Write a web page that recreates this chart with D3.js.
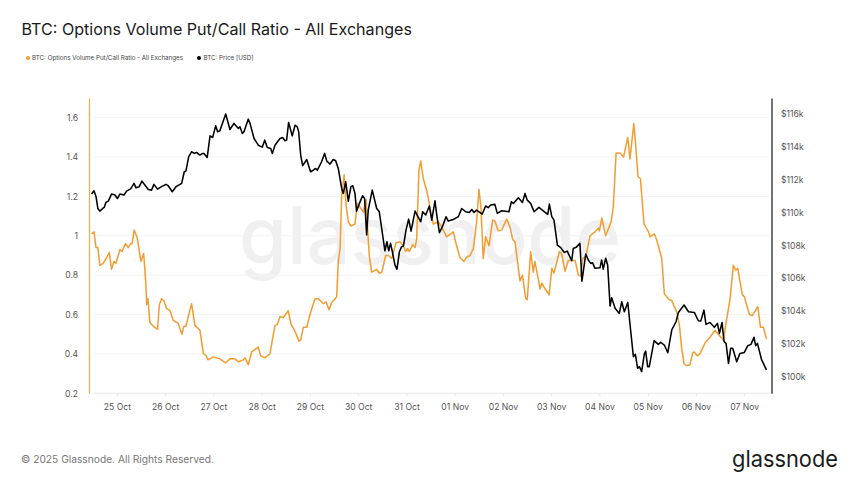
<!DOCTYPE html>
<html><head><meta charset="utf-8">
<script src="https://cdnjs.cloudflare.com/ajax/libs/d3/7.8.5/d3.min.js"></script>
<style>html,body{margin:0;padding:0;background:#fff}svg{display:block}text{font-family:Inter,"Noto Sans",sans-serif}</style>
</head><body><svg id="c" width="860" height="484"></svg>
<script>
// hours since 25 Oct 2025 00:00 UTC
const ratioHours=[-12.6,-11.4,-10.4,-9.5,-8.5,-6.8,-5.1,-3.8,-2.7,-1.5,-0.5,1.5,2.5,4.3,5.6,6.8,7.5,8.6,10.1,11.9,13.3,14.3,14.8,15.4,16.4,18.1,20.2,21.1,22.2,23.4,24.7,26.4,28,30.5,32.3,33.3,34.3,37.1,38.8,41.3,43,44.1,45.4,47.1,47.9,49.6,51.2,54.1,56.2,58.7,60.4,62.9,63.7,65.3,67,70.3,71.5,73.6,76.1,78.6,79.8,81.1,82.8,85.2,86.6,88.6,90.5,91.4,92.7,94.4,96,98.5,100.2,102.7,104,105.5,106.8,109.3,110.1,111,111.8,113,114,115.1,116.4,118.4,119.6,120.9,122.6,123.9,124.5,125.5,126.7,129.2,130.5,131.7,133.7,135,136.7,138.8,140.8,142.5,143.6,144.6,145.4,147.1,148.3,149.1,150.2,151.1,152.4,154.1,154.9,156.1,157.4,159.9,161.5,164,167.3,168.7,170.6,172.6,173.9,175.6,177.3,178.9,180.1,181.1,182.2,183.4,185.1,186.9,188,189.7,191.4,193.9,195.5,196.9,198,199.7,200.5,201.7,203.3,204.1,205.8,207.1,207.9,210.5,211.3,213,215,216.3,217.4,220.1,221.2,222.9,224.5,227.9,229.5,230.7,231.7,233.3,235.3,237.8,239.5,240,241.2,243.1,245.8,246.9,248.3,250.3,252,254.1,255.2,257.1,258.2,259.2,260.4,262.2,264.4,265.2,267.3,268.5,271,272.3,274.3,276,278.4,279.8,280.9,282.1,283.4,285,286.4,287.2,288.7,290,292.5,295,297.5,300,301.7,302.8,305,306.6,307.8,308.8,311.1,312.1,314.6,316.1,318.8,320.1,321.6,323.1];
const ratioValues=[1.01,1.02,.94,.94,.85,.86,.89,.915,.83,.87,.86,.93,.92,.96,.94,.96,.96,1.03,.99,.87,.91,.77,.65,.68,.56,.54,.525,.65,.68,.67,.63,.62,.57,.555,.5,.54,.54,.655,.545,.52,.4,.395,.37,.38,.385,.38,.375,.355,.375,.375,.36,.37,.38,.345,.41,.435,.39,.38,.4,.545,.55,.59,.585,.62,.55,.515,.465,.47,.535,.535,.6,.68,.68,.655,.665,.625,.66,.69,.87,.935,1.205,1.31,1.155,1.07,1.05,1.06,1.165,1.145,1.12,1.185,1.07,.9,.815,.83,.81,.815,.9,.9,.885,.965,.97,.95,.92,.935,.92,.955,.94,.985,1.33,1.38,1.29,1.23,1.19,1.12,1.06,1.07,1.045,.995,1.02,.96,.89,.87,.89,.9,.935,1.07,1.235,1.14,.885,.995,.95,1.08,1.075,1.025,1.03,1.085,1.045,.98,.97,.835,.77,.8,.685,.675,.92,.815,.87,.73,.76,.73,.7,.835,.81,.92,.91,.82,.875,.875,.8,.795,.885,.895,1,1.02,1.04,1.025,1.09,1,1.07,1.145,1.42,1.42,1.4,1.5,1.39,1.57,1.44,1.3,1.29,1.06,1.02,.995,1.01,.98,.885,.705,.68,.67,.615,.545,.43,.35,.34,.345,.405,.41,.39,.4,.455,.485,.52,.49,.47,.545,.68,.85,.825,.835,.7,.69,.6,.595,.64,.535,.535,.475];
const priceHours=[-12.6,-11.4,-10.4,-9.5,-8.5,-7.1,-6.3,-5.5,-4.3,-2.7,-1,.2,1.5,3.5,4.8,6.8,8.5,9.5,11.1,12.4,13.9,15.6,17.2,18.4,20.2,22.2,24.4,25.5,27.5,29.4,32.2,33.5,34.3,35.7,37.1,38.5,39.6,41.3,42.6,43.3,44.9,46.3,47.6,49.1,50.1,51.2,54.1,56.2,58.2,60.4,61.2,62.4,63.2,65.3,66.2,68.2,70.3,72.3,73.5,74.8,76.5,77.3,78.6,81.1,82.4,83.6,84.4,85.4,87.2,88.6,89.7,90.4,91.4,92.4,94.4,96.3,97.7,98.8,99.7,101.8,103.3,104.4,106,107.6,108.8,110.1,111.8,112.6,113.8,115.1,116.4,117.3,118.4,119.2,120.6,122.2,123.2,124.2,125,127,129.2,130.5,131.7,133.3,134.3,135.2,136.1,137,138.3,139.3,140.5,141.6,142.5,143.8,145.1,146.3,148.3,151.1,152.1,153.6,155.4,156.6,158.2,159.1,160.4,161.9,163.7,164.8,167.3,169.8,171.5,173.5,175.3,176.5,177.6,178.9,181.7,183.4,184.7,185.9,188,189.2,191.4,195,196.2,197.2,199.7,201.7,203,204.1,205.8,207.5,209.9,213,214.3,215.1,216.3,217.4,219.1,220.8,221.6,222.6,224,226.2,227,228.4,230.3,231.3,233.2,234.5,235.7,236.6,237.8,240.3,241.1,241.9,243.1,244.1,245.3,246.1,247.8,249.9,251.1,252.4,254.1,255.6,256.9,257.9,259,259.9,261,262.4,263,264,264.8,267.2,269.3,270.5,272.3,274,276,278.1,279.3,282.1,284.3,287.2,289.2,290.4,292,293,295,297.2,298.7,299.7,301,302,303,304.2,305.3,306.3,308.3,309.9,312.1,313.8,315.4,316.9,317.7,318.6,320.7,323.1];
const priceValues=[111.13,111.33,110.97,110.25,110.09,110.25,110.32,110.62,110.7,111.13,111.07,110.86,111.13,111.07,111.31,111.45,111.78,111.51,111.58,111.92,111.68,111.41,111.37,111.72,111.43,111.58,111.72,111.64,111.27,111.58,111.78,112.49,112.53,113.41,113.71,113.61,113.67,113.51,113.61,113.61,113.36,114.68,114.58,115.29,114.93,114.99,116.01,115.07,115.44,115.13,115.23,114.83,114.93,115.7,115.44,114.52,114.11,113.99,114.42,113.97,113.91,113.61,114.11,114.52,114.58,114.38,114.42,115.5,114.68,115.33,115.23,114.93,113.51,112.86,113.24,112.49,112.59,112.69,112.59,113.1,113.61,113.14,112.96,113.24,113.16,112.69,111.47,111.17,111.88,110.7,111.58,111.64,111.17,110.09,110.56,111.03,110.86,108.63,110.15,111.37,110.25,110.05,109.03,107.67,108.22,107.67,108.12,107.61,106.8,106.55,107.61,107.92,107.96,108.93,109.6,108.87,110.09,109.44,110.05,109.85,110.4,109.54,110.72,109.85,108.77,109.14,109.75,109.48,109.58,109.75,110.25,110.05,110.01,110.19,110.01,110.15,109.91,110.4,110.3,110.46,110.5,109.95,110.11,110.05,110.66,110.56,110.9,110.62,111.17,110.76,110.56,110.05,110.32,110.01,109.89,110.52,109.75,109.54,108.02,107.86,107.71,107.57,107.65,107.06,107.81,107.88,108.12,105.82,107.47,107.1,106.9,106.94,106.6,106.64,107.1,106.55,107.21,106.8,104.3,104.81,104.16,103.85,104.56,103.95,104.52,102.73,101.21,101.35,100.5,100.6,100.3,101.41,101.55,100.6,100.6,102.19,101.96,102.08,101.92,101.45,102.84,103.34,103.91,104.36,103.95,103.91,103.4,103.38,104.05,103.18,103.3,103,103.24,102.63,103.3,102.12,102.02,100.8,101.72,101.72,100.9,101.41,101.47,101.88,101.96,102.39,101.88,102.02,101.01,100.4];
const ratioTicks=[0.2,0.4,0.6,0.8,1,1.2,1.4,1.6];
const priceTicks=[100,102,104,106,108,110,112,114,116];
const dayLabels=["25 Oct","26 Oct","27 Oct","28 Oct","29 Oct","30 Oct","31 Oct","01 Nov","02 Nov","03 Nov","04 Nov","05 Nov","06 Nov","07 Nov"];
const title="BTC: Options Volume Put/Call Ratio - All Exchanges";
const seriesNames=["BTC: Options Volume Put/Call Ratio - All Exchanges","BTC: Price [USD]"];

const ORANGE="#f39c2f",BLACK="#000";
const svg=d3.select("#c");
const L=89,R=771.5,T=98,B=393.3;
const t0=Date.UTC(2025,9,25);
const toDate=h=>new Date(t0+h*3600e3);
const x=d3.scaleUtc().domain([toDate(-13.9),toDate(325.6)]).range([L,R]);
const yR=d3.scaleLinear().domain([0.2,1.7]).range([B,T]);
const yP=d3.scaleLinear().domain([98.976,116.99]).range([B,T]);

// watermark
svg.append("text").attr("x",430).attr("y",264).attr("text-anchor","middle")
  .attr("font-size",80).attr("font-weight",500).attr("textLength",382).attr("lengthAdjust","spacingAndGlyphs")
  .attr("fill","#f0f0f0").text("glassnode");

// grid
svg.append("g").selectAll("line").data(ratioTicks).join("line")
  .attr("x1",L+5).attr("x2",R-2).attr("y1",d=>yR(d)).attr("y2",d=>yR(d))
  .attr("stroke",d=>d===0.2?"#e6e6e6":"#f3f3f3").attr("stroke-width",1);

// axes
const dayDates=dayLabels.map((_,i)=>toDate(24*i));
const xAxis=svg.append("g").attr("transform",`translate(0,${B})`)
  .call(d3.axisBottom(x).tickValues(dayDates).tickSize(3).tickFormat((d,i)=>dayLabels[i]));
xAxis.select(".domain").remove();
xAxis.selectAll("line").attr("stroke","#e6e6e6");
xAxis.selectAll("text").attr("font-size",8.6).attr("fill","#555").attr("dy","1.25em");

const lAxis=svg.append("g").attr("transform",`translate(${L},0)`)
  .call(d3.axisLeft(yR).tickValues(ratioTicks).tickSize(0).tickPadding(11).tickFormat(d=>d3.format("~g")(d)));
lAxis.select(".domain").attr("stroke",ORANGE).attr("stroke-opacity",.85).attr("stroke-width",1.2);
lAxis.selectAll("text").attr("font-size",8.6).attr("fill","#555");

const rAxis=svg.append("g").attr("transform",`translate(${R},0)`)
  .call(d3.axisRight(yP).tickValues(priceTicks).tickSize(0).tickPadding(9.5).tickFormat(d=>`$${d}k`));
rAxis.select(".domain").attr("stroke","#000").attr("stroke-width",1.1);
rAxis.selectAll("text").attr("font-size",8.6).attr("fill","#555");

// lines
const lineR=d3.line().x((d,i)=>x(toDate(ratioHours[i]))).y(d=>yR(d));
const lineP=d3.line().x((d,i)=>x(toDate(priceHours[i]))).y(d=>yP(d));
svg.append("path").attr("d",lineR(ratioValues)).attr("fill","none").attr("stroke",ORANGE).attr("stroke-width",1.5).attr("stroke-linejoin","round");
svg.append("path").attr("d",lineP(priceValues)).attr("fill","none").attr("stroke",BLACK).attr("stroke-width",1.55).attr("stroke-linejoin","round");

// title
svg.append("text").attr("x",21.5).attr("y",35).attr("font-size",16.1).attr("fill","#1a1a1a").text(title);

// legend
const lg=svg.append("g");
[[28,ORANGE,32,seriesNames[0],151],[199,BLACK,203.5,seriesNames[1],50]].forEach(([cx,c,tx,s,w])=>{
  lg.append("circle").attr("cx",cx).attr("cy",58).attr("r",2).attr("fill",c);
  lg.append("text").attr("x",tx).attr("y",60.3).attr("font-size",6.3).attr("textLength",w).attr("lengthAdjust","spacingAndGlyphs").attr("fill","#444").text(s);
});

// footer
svg.append("text").attr("x",21).attr("y",463).attr("font-size",10.4).attr("textLength",193).attr("lengthAdjust","spacingAndGlyphs").attr("fill","#777").text("© 2025 Glassnode. All Rights Reserved.");
svg.append("text").attr("x",838).attr("y",467).attr("text-anchor","end").attr("font-size",23).attr("textLength",106).attr("lengthAdjust","spacingAndGlyphs").attr("fill","#1c1c1c").text("glassnode");
</script></body></html>
